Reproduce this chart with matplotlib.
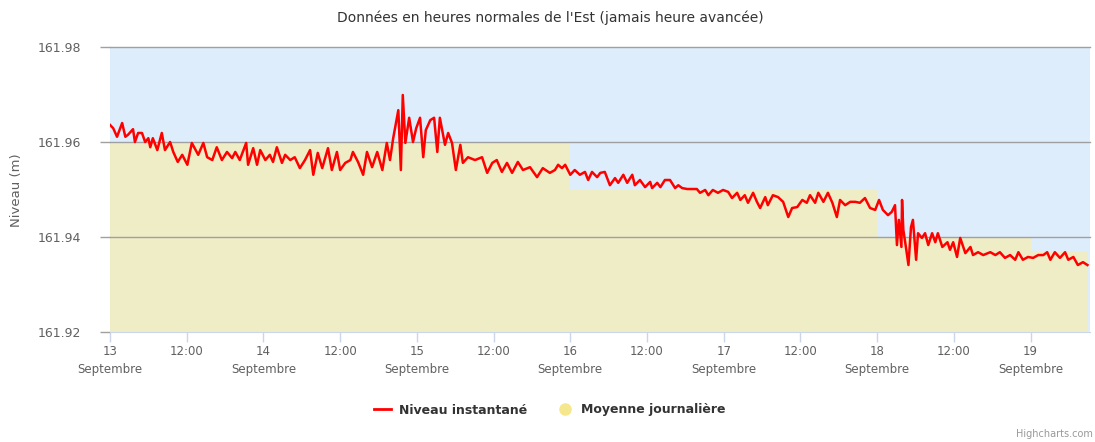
import matplotlib
matplotlib.use('Agg')  # no display
import matplotlib.pyplot as plt
from matplotlib.lines import Line2D

# Niveau instantané: heures depuis le 13 septembre 00:00 (HNE) et niveau (m)
heures = [
    0.0, 0.5, 1.1, 1.9, 2.4, 2.8, 3.6, 3.9, 4.4, 5.0,
    5.5, 6.0, 6.3, 6.7, 7.4, 8.1, 8.6, 9.4, 9.9, 10.6,
    11.3, 12.1, 12.8, 13.8, 14.6, 15.2, 16.0, 16.7, 17.5, 18.3,
    19.1, 19.6, 20.3, 21.3, 21.6, 22.4, 23.0, 23.5, 24.3, 25.0,
    25.5, 26.1, 26.9, 27.4, 28.2, 28.9, 29.7, 30.5, 31.3, 31.8,
    32.5, 33.2, 34.1, 34.7, 35.5, 36.0, 36.8, 37.6, 38.0, 38.8,
    39.6, 40.2, 41.0, 41.8, 42.6, 43.3, 43.8, 44.3, 45.1, 45.5,
    45.8, 46.2, 46.8, 47.4, 47.9, 48.5, 49.0, 49.4, 50.1, 50.7,
    51.2, 51.6, 52.4, 52.9, 53.5, 54.1, 54.8, 55.2, 56.0, 57.1,
    58.2, 59.0, 59.8, 60.5, 61.3, 62.1, 62.9, 63.8, 64.6, 65.7,
    66.8, 67.7, 68.8, 69.6, 70.1, 70.7, 71.2, 72.0, 72.7, 73.5,
    74.3, 74.8, 75.4, 76.2, 76.7, 77.4, 78.2, 79.0, 79.5, 80.3,
    80.9, 81.7, 82.1, 82.9, 83.7, 84.5, 84.8, 85.6, 86.1, 86.8,
    87.6, 88.4, 88.9, 89.5, 90.3, 91.8, 92.3, 93.1, 93.6, 94.3,
    95.1, 95.9, 96.7, 97.3, 98.1, 98.6, 99.3, 99.8, 100.6, 101.2,
    101.7, 102.5, 102.9, 103.7, 104.5, 105.3, 106.1, 106.7, 107.5, 108.3,
    109.0, 109.5, 110.3, 110.8, 111.6, 112.3, 113.0, 113.7, 114.2, 115.0,
    115.8, 116.6, 117.3, 118.1, 118.9, 119.7, 120.3, 120.9, 121.7, 122.3,
    122.8, 123.1, 123.4, 123.8, 123.9, 124.1, 124.5, 124.9, 125.3, 125.6,
    126.1, 126.4, 127.0, 127.5, 128.0, 128.6, 129.1, 129.5, 130.2, 131.0,
    131.4, 131.9, 132.5, 133.0, 133.8, 134.6, 135.0, 135.8, 136.6, 137.7,
    138.5, 139.2, 140.0, 140.8, 141.6, 142.1, 142.8, 143.6, 144.4, 145.2,
    146.0, 146.6, 147.1, 147.8, 148.6, 149.4, 149.9, 150.7, 151.4, 152.2,
    152.9,
]
niveau = [
    161.9636, 161.9629, 161.9611, 161.9640, 161.9611, 161.9615, 161.9627, 161.9600, 161.9619, 161.9619,
    161.9600, 161.9608, 161.9589, 161.9608, 161.9583, 161.9619, 161.9583, 161.9600, 161.9579, 161.9558,
    161.9573, 161.9552, 161.9598, 161.9573, 161.9598, 161.9568, 161.9562, 161.9589, 161.9562, 161.9579,
    161.9566, 161.9579, 161.9562, 161.9598, 161.9552, 161.9587, 161.9552, 161.9583, 161.9562, 161.9573,
    161.9558, 161.9589, 161.9556, 161.9573, 161.9562, 161.9568, 161.9545, 161.9562, 161.9583, 161.9531,
    161.9577, 161.9545, 161.9587, 161.9541, 161.9579, 161.9541, 161.9556, 161.9562, 161.9579, 161.9558,
    161.9531, 161.9579, 161.9547, 161.9579, 161.9541, 161.9598, 161.9562, 161.9608, 161.9667, 161.9541,
    161.9699, 161.9598, 161.9651, 161.9600, 161.9629, 161.9651, 161.9568, 161.9625, 161.9646, 161.9651,
    161.9579, 161.9651, 161.9594, 161.9619, 161.9598, 161.9541, 161.9594, 161.9556, 161.9568, 161.9562,
    161.9568, 161.9535, 161.9556, 161.9562, 161.9537, 161.9556, 161.9535, 161.9558, 161.9541, 161.9547,
    161.9526, 161.9545, 161.9535, 161.9541, 161.9552, 161.9545, 161.9552, 161.9531, 161.9541, 161.9531,
    161.9537, 161.9520, 161.9537, 161.9526, 161.9535, 161.9537, 161.9509, 161.9524, 161.9514, 161.9531,
    161.9514, 161.9531, 161.9509, 161.9520, 161.9505, 161.9516, 161.9503, 161.9514, 161.9505, 161.9520,
    161.9520, 161.9503, 161.9509, 161.9503, 161.9501, 161.9501, 161.9493, 161.9499, 161.9488, 161.9499,
    161.9493, 161.9499, 161.9495, 161.9482, 161.9493, 161.9478, 161.9488, 161.9472, 161.9493, 161.9474,
    161.9461, 161.9484, 161.9467, 161.9488, 161.9484, 161.9474, 161.9442, 161.9461, 161.9463, 161.9478,
    161.9472, 161.9488, 161.9472, 161.9493, 161.9474, 161.9493, 161.9472, 161.9442, 161.9478, 161.9467,
    161.9474, 161.9474, 161.9472, 161.9482, 161.9461, 161.9457, 161.9478, 161.9457, 161.9446, 161.9453,
    161.9467, 161.9383, 161.9436, 161.9379, 161.9478, 161.9415, 161.9379, 161.9341, 161.9421, 161.9436,
    161.9352, 161.9408, 161.9398, 161.9408, 161.9383, 161.9408, 161.9389, 161.9408, 161.9379, 161.9389,
    161.9373, 161.9389, 161.9358, 161.9398, 161.9366, 161.9379, 161.9362, 161.9368, 161.9362, 161.9368,
    161.9362, 161.9368, 161.9356, 161.9362, 161.9352, 161.9368, 161.9352, 161.9358, 161.9356, 161.9362,
    161.9362, 161.9368, 161.9352, 161.9368, 161.9356, 161.9368, 161.9352, 161.9358, 161.9341, 161.9347,
    161.9341,
]

# Moyenne journalière (m), du 13 au 19 septembre
jours = ['13', '14', '15', '16', '17', '18', '19']
moyenne = [161.960, 161.960, 161.960, 161.950, 161.950, 161.940, 161.937]
fin_donnees = 153.0
mois = 'Septembre'
titre = "Données en heures normales de l'Est (jamais heure avancée)"

W, H = 1095, 442
fig = plt.figure(figsize=(W / 100, H / 100), dpi=100)
ax = fig.add_axes([110 / W, 1 - 332 / H, 980 / W, 285 / H])
ax.set_facecolor('#deedfb')

# aire en escalier pour les moyennes
bords = [24 * i for i in range(len(moyenne))] + [fin_donnees]
ax.fill_between(bords, moyenne + [moyenne[-1]], 161.92, step='post',
                color='#efedc6', lw=0, zorder=1)

for v in [161.94, 161.96, 161.98]:
    ax.axhline(v, color='#a0a0a0', lw=1, zorder=2, clip_on=False)

ax.plot(heures, niveau, color='#ff0000', lw=1.8, zorder=3)

yt = [161.92, 161.94, 161.96, 161.98]
ax.set_yticks(yt)
ax.set_yticklabels([f'{v:.2f}' for v in yt])

# graduations toutes les 12 h, jusqu'au dernier jour
xt = list(range(0, 24 * (len(jours) - 1) + 1, 12))
xl = []
for t in xt:
    if t % 24 == 0:
        xl.append(jours[t // 24] + '\n' + mois)
    else:
        xl.append('12:00')
ax.set_xticks(xt)
ax.set_xticklabels(xl)
for lab in ax.get_xticklabels():
    lab.set_linespacing(1.45)

ax.set_xlim(0, 153.3)
ax.set_ylim(161.92, 161.98)

ax.tick_params(axis='x', length=7.5, width=1, color='#ccd6eb',
               labelsize=8.5, labelcolor='#606060', pad=2)
ax.tick_params(axis='y', length=7.5, width=1, color='#a0a0a0',
               labelsize=9, labelcolor='#606060', pad=13)

for s in ['top', 'right', 'left']:
    ax.spines[s].set_visible(False)
ax.spines['bottom'].set_color('#ccd6eb')
ax.spines['bottom'].set_zorder(4)

fig.text(550 / W, 1 - 18 / H, titre, ha='center', va='center',
         fontsize=10, color='#333333')
fig.text(17 / W, 1 - 190 / H, 'Niveau (m)', rotation=90, ha='center',
         va='center', fontsize=9.5, color='#606060')

handles = [
    Line2D([], [], color='#ff0000', lw=2),
    Line2D([], [], marker='o', ls='none', markersize=9,
           markerfacecolor='#f5e78e', markeredgecolor='none'),
]
fig.legend(handles, ['Niveau instantané', 'Moyenne journalière'],
           loc='center', bbox_to_anchor=(550 / W, 1 - 410 / H), ncol=2,
           frameon=False, handlelength=1.35, handletextpad=0.6,
           columnspacing=2.4, prop={'weight': 'bold', 'size': 9},
           labelcolor='#333333')

fig.text(1016 / W, 1 - 437 / H, 'Highcharts.com', fontsize=7,
         color='#999999', ha='left', va='baseline')

fig.savefig('out.png', dpi=100)
plt.close(fig)
